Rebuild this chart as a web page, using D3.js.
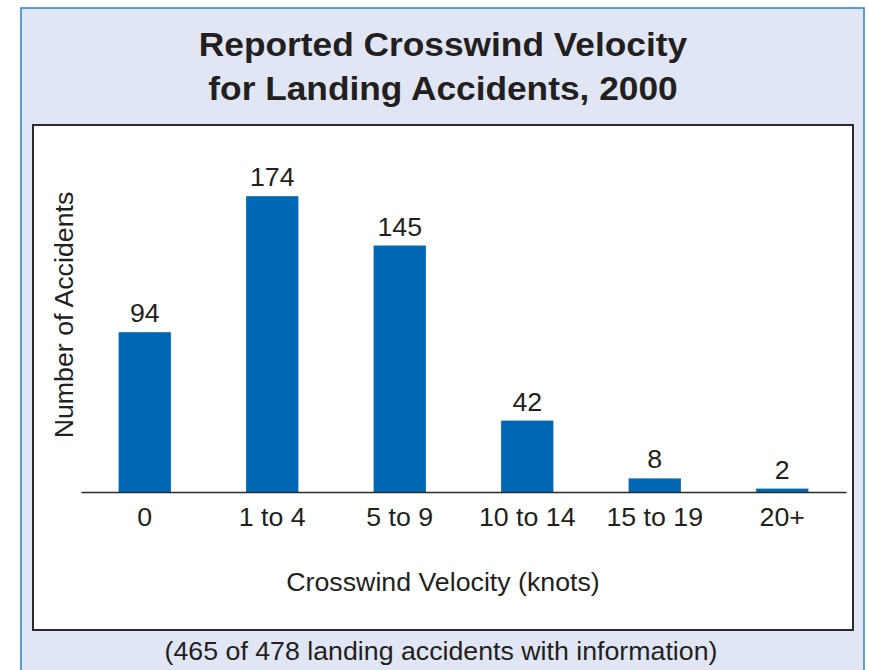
<!DOCTYPE html>
<html>
<head>
<meta charset="utf-8">
<script src="https://cdn.jsdelivr.net/npm/d3@7"></script>
<style>
  html, body { margin: 0; padding: 0; background: #ffffff; }
  svg { display: block; }
  text { font-family: "Liberation Sans", Arial, Helvetica, sans-serif; fill: #231f20; }
</style>
</head>
<body>
<svg id="chart" width="869" height="670"></svg>
<script>
// Landing accidents by reported crosswind velocity, 2000
const categories = ["0", "1 to 4", "5 to 9", "10 to 14", "15 to 19", "20+"];
const accidents = [94, 174, 145, 42, 8, 2];
const titleLines = ["Reported Crosswind Velocity", "for Landing Accidents, 2000"];
const xTitle = "Crosswind Velocity (knots)";
const yTitle = "Number of Accidents";
const footnote = "(465 of 478 landing accidents with information)";

const W = 869, H = 670;
const stretch = 1.07; // type is set slightly wide

const svg = d3.select("#chart");

// outer tinted panel
svg.append("rect")
  .attr("x", 21).attr("y", 8).attr("width", 843).attr("height", H)
  .attr("fill", "#e1e6f4").attr("stroke", "#2f7fc4").attr("stroke-width", 1.5);

// white plotting box
svg.append("rect")
  .attr("x", 33).attr("y", 125).attr("width", 820).attr("height", 505)
  .attr("fill", "#ffffff").attr("stroke", "#2b2b2b").attr("stroke-width", 2);

// scales
const x = d3.scaleBand()
  .domain(categories)
  .range([81, 846])
  .paddingInner(0.59)
  .paddingOuter(0.295);

const y = d3.scaleLinear()
  .domain([0, 200])
  .range([492, 152]);

// helper for slightly widened text
function label(g, tx, ty, str, size, weight, rotate) {
  const t = g.append("g")
    .attr("transform", `translate(${tx},${ty})` + (rotate ? ` rotate(${rotate})` : "") + ` scale(${stretch},1)`);
  return t.append("text")
    .attr("text-anchor", "middle")
    .attr("font-size", size)
    .attr("font-weight", weight || "normal")
    .text(str);
}

// title
titleLines.forEach((line, i) => {
  label(svg, 443, 56 + i * 44, line, 33, "bold");
});

// bars
const data = categories.map((c, i) => ({ c, v: accidents[i] }));
svg.append("g").selectAll("rect")
  .data(data)
  .join("rect")
  .attr("x", d => x(d.c))
  .attr("y", d => y(d.v))
  .attr("width", x.bandwidth())
  .attr("height", d => y(0) - y(d.v))
  .attr("fill", "#0068b4");

// value labels
const vals = svg.append("g");
data.forEach(d => {
  label(vals, x(d.c) + x.bandwidth() / 2, y(d.v) - 10, String(d.v), 25);
});

// x axis (baseline + category labels, no ticks)
const xAxis = d3.axisBottom(x).tickSize(0).tickPadding(0).tickFormat(() => "");
const ax = svg.append("g").attr("transform", `translate(0,${y(0)})`).call(xAxis);
ax.select(".domain").attr("stroke", "#2b2b2b").attr("stroke-width", 1.5);
const tickG = svg.append("g");
categories.forEach(c => {
  label(tickG, x(c) + x.bandwidth() / 2, 526, c, 25);
});

// axis titles
label(svg, 443, 591, xTitle, 25);
label(svg, 73, 315, yTitle, 25, "normal", -90);

// footnote
label(svg, 441, 660, footnote, 25);
</script>
</body>
</html>
